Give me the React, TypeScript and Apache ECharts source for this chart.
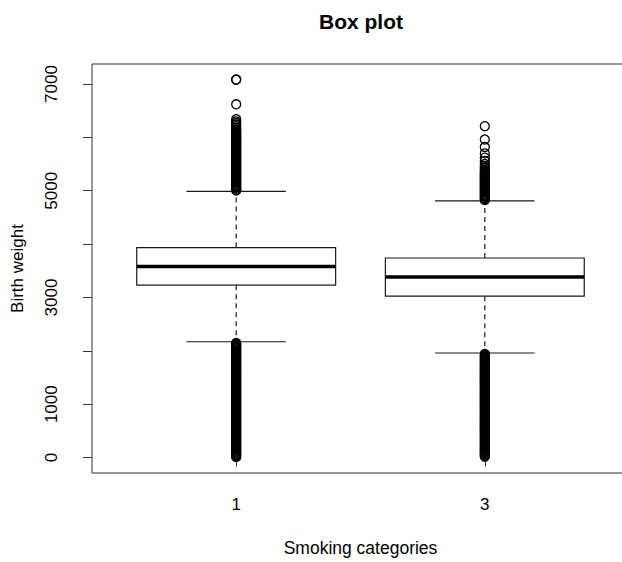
import React, { useEffect, useRef } from "react";
import * as echarts from "echarts";

// Smoking categories shown on the x axis
const categories = ["1", "3"];

// Box statistics per category (grams)
const lowerWhisker = [2170, 1960];
const q1 = [3230, 3025];
const median = [3580, 3385];
const q3 = [3935, 3740];
const upperWhisker = [4990, 4810];

// Outlying birth weights, category 1
const outliersCat1Low = [
  10, 28, 45, 62, 80, 100, 118, 135, 155, 170, 190, 210, 227, 245, 260, 280, 298, 315, 335, 350,
  370, 390, 405, 425, 440, 460, 480, 495, 515, 530, 550, 570, 585, 605, 620, 640, 660, 675, 695, 710,
  730, 750, 765, 785, 800, 820, 840, 855, 875, 890, 910, 930, 945, 965, 980, 1000, 1020, 1035, 1055, 1070,
  1090, 1110, 1125, 1145, 1160, 1180, 1200, 1215, 1235, 1250, 1270, 1290, 1305, 1325, 1340, 1360, 1380, 1395,
  1415, 1430, 1450, 1470, 1485, 1505, 1520, 1540, 1560, 1575, 1595, 1610, 1630, 1650, 1665, 1685, 1700, 1720,
  1740, 1755, 1775, 1790, 1810, 1830, 1845, 1865, 1880, 1900, 1920, 1935, 1955, 1970, 1990, 2010, 2025, 2045,
  2060, 2080, 2100, 2115, 2135, 2150,
];
const outliersCat1High = [
  5005, 5020, 5040, 5060, 5075, 5095, 5110, 5130, 5150, 5165, 5185, 5200, 5220, 5240, 5255, 5275, 5290, 5310,
  5330, 5345, 5365, 5380, 5400, 5420, 5435, 5455, 5470, 5490, 5510, 5525, 5545, 5560, 5580, 5600, 5615, 5635,
  5650, 5670, 5690, 5705, 5725, 5740, 5760, 5780, 5795, 5815, 5830, 5850, 5870, 5885, 5905, 5920, 5940, 5960,
  5975, 5995, 6010, 6030, 6050, 6065, 6085, 6100, 6125, 6150, 6180, 6210, 6240, 6270, 6300, 6340, 6620, 7080,
  7084,
];

// Outlying birth weights, category 3
const outliersCat3Low = [
  15, 32, 50, 68, 85, 105, 120, 140, 158, 175, 195, 212, 230, 248, 265, 285, 300, 320, 338, 355,
  375, 392, 410, 428, 445, 465, 482, 500, 518, 535, 555, 572, 590, 608, 625, 645, 662, 680, 698, 715,
  735, 752, 770, 788, 805, 825, 842, 860, 878, 895, 915, 932, 950, 968, 985, 1005, 1022, 1040, 1058, 1075,
  1095, 1112, 1130, 1148, 1165, 1185, 1202, 1220, 1238, 1255, 1275, 1292, 1310, 1328, 1345, 1365, 1382, 1400,
  1418, 1435, 1455, 1472, 1490, 1508, 1525, 1545, 1562, 1580, 1598, 1615, 1635, 1652, 1670, 1688, 1705, 1725,
  1742, 1760, 1778, 1795, 1815, 1832, 1850, 1868, 1885, 1905, 1922, 1940,
];
const outliersCat3High = [
  4825, 4840, 4860, 4880, 4895, 4915, 4930, 4950, 4970, 4985, 5005, 5020, 5040, 5060, 5075, 5095, 5110, 5130,
  5150, 5165, 5185, 5200, 5220, 5240, 5255, 5275, 5290, 5310, 5330, 5350, 5375, 5400, 5430, 5460, 5500, 5560,
  5620, 5700, 5820, 5960, 6210,
];

// Y axis ticks and the subset that carries labels
const yTicks = [0, 1000, 2000, 3000, 4000, 5000, 6000, 7000];
const yTickLabels = [0, 1000, 3000, 5000, 7000];

const FONT = "'Liberation Sans', Arial, Helvetica, sans-serif";

export default function App() {
  const ref = useRef<HTMLDivElement>(null);

  useEffect(() => {
    if (!ref.current) return;
    const chart = echarts.init(ref.current, undefined, { renderer: "svg" });

    const boxData = categories.map((_, i) => [
      i + 1,
      lowerWhisker[i],
      q1[i],
      median[i],
      q3[i],
      upperWhisker[i],
    ]);

    const outlierPoints = [
      ...outliersCat1Low.map((v) => [1, v]),
      ...outliersCat1High.map((v) => [1, v]),
      ...outliersCat3Low.map((v) => [2, v]),
      ...outliersCat3High.map((v) => [2, v]),
    ];

    const lineColor = "#1a1a1a";

    chart.setOption({
      animation: false,
      backgroundColor: "#ffffff",
      graphic: [
        {
          type: "text",
          x: 361,
          y: 21,
          style: {
            text: "Box plot",
            font: `bold 21px ${FONT}`,
            fill: "#000",
            textAlign: "center",
            textVerticalAlign: "middle",
          },
        },
      ],
      grid: {
        left: 92,
        top: 64,
        width: 537,
        height: 409,
        outerBoundsMode: "none",
        containLabel: false,
        show: true,
        borderColor: "#333",
        borderWidth: 1,
        backgroundColor: "transparent",
      },
      xAxis: {
        type: "value",
        min: 0.42,
        max: 2.58,
        axisLine: { show: false },
        splitLine: { show: false },
        axisTick: {
          show: true,
          customValues: [1, 2],
          length: 9,
          lineStyle: { color: "#333", width: 1 },
        },
        axisLabel: {
          customValues: [1, 2],
          formatter: (v: number) => categories[Math.round(v) - 1] ?? "",
          margin: 23,
          fontSize: 17,
          color: "#000",
          fontFamily: FONT,
        },
        name: "Smoking categories",
        nameLocation: "middle",
        nameGap: 66,
        nameTextStyle: { fontSize: 17.5, color: "#000", fontFamily: FONT },
      },
      yAxis: {
        type: "value",
        min: -289,
        max: 7375,
        axisLine: { show: false },
        splitLine: { show: false },
        axisTick: {
          show: true,
          customValues: yTicks,
          length: 9,
          lineStyle: { color: "#333", width: 1 },
        },
        axisLabel: {
          customValues: yTickLabels,
          formatter: (v: number) => String(v),
          rotate: 90,
          margin: 32,
          fontSize: 17,
          color: "#000",
          fontFamily: FONT,
        },
        name: "Birth weight",
        nameLocation: "middle",
        nameRotate: 90,
        nameGap: 66,
        nameTextStyle: { fontSize: 17, color: "#000", fontFamily: FONT },
      },
      series: [
        {
          type: "custom",
          data: boxData,
          encode: { x: 0, y: [1, 2, 3, 4, 5] },
          z: 2,
          renderItem: (params: any, api: any) => {
            const xv = api.value(0);
            const w = api.size([0.8, 0])[0];
            const capHalf = w / 4;
            const pLow = api.coord([xv, api.value(1)]);
            const pQ1 = api.coord([xv, api.value(2)]);
            const pMed = api.coord([xv, api.value(3)]);
            const pQ3 = api.coord([xv, api.value(4)]);
            const pHigh = api.coord([xv, api.value(5)]);
            const cx = pMed[0];
            const thin = { stroke: lineColor, lineWidth: 1.2 };
            const dashed = { stroke: lineColor, lineWidth: 1.2, lineDash: [5, 4] };
            return {
              type: "group",
              children: [
                { type: "line", shape: { x1: cx, y1: pQ3[1], x2: cx, y2: pHigh[1] }, style: dashed },
                { type: "line", shape: { x1: cx, y1: pQ1[1], x2: cx, y2: pLow[1] }, style: dashed },
                { type: "line", shape: { x1: cx - capHalf, y1: pHigh[1], x2: cx + capHalf, y2: pHigh[1] }, style: thin },
                { type: "line", shape: { x1: cx - capHalf, y1: pLow[1], x2: cx + capHalf, y2: pLow[1] }, style: thin },
                {
                  type: "rect",
                  shape: { x: cx - w / 2, y: pQ3[1], width: w, height: pQ1[1] - pQ3[1] },
                  style: { fill: "#fff", stroke: lineColor, lineWidth: 1.2 },
                },
                {
                  type: "line",
                  shape: { x1: cx - w / 2, y1: pMed[1], x2: cx + w / 2, y2: pMed[1] },
                  style: { stroke: "#000", lineWidth: 3.5 },
                },
              ],
            };
          },
        },
        {
          type: "scatter",
          data: outlierPoints,
          symbol: "circle",
          symbolSize: 9,
          z: 3,
          itemStyle: { color: "none", borderColor: "#000", borderWidth: 1.3, opacity: 1 },
          emphasis: { disabled: true },
        },
      ],
    });

    return () => chart.dispose();
  }, []);

  return (
    <div
      ref={ref}
      style={{ position: "fixed", left: 0, top: 0, width: 622, height: 562, background: "#fff" }}
    />
  );
}
